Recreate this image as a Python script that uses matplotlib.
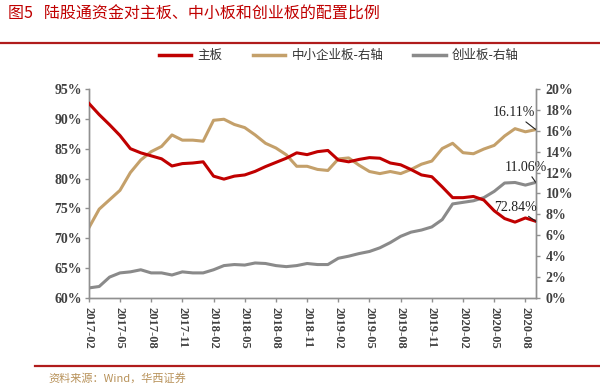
import matplotlib
matplotlib.use("Agg")
import matplotlib.pyplot as plt
import pandas as pd

months = list(pd.date_range("2017-02-01", "2020-09-01", freq="MS").strftime("%Y-%m"))

main_board = [92.6, 90.7, 89.0, 87.2, 85.0, 84.3, 83.8, 83.3, 82.1, 82.5, 82.6, 82.8,
              80.4, 79.9, 80.4, 80.6, 81.2, 82.0, 82.7, 83.4, 84.3, 84.0, 84.5, 84.7,
              83.1, 82.8, 83.2, 83.5, 83.4, 82.6, 82.3, 81.5, 80.6, 80.3, 78.6, 76.8,
              76.8, 77.0, 76.4, 74.6, 73.3, 72.7, 73.4, 72.84]
sme_board = [6.7, 8.5, 9.4, 10.3, 12.0, 13.2, 14.0, 14.5, 15.6, 15.1, 15.1, 15.0,
             17.0, 17.1, 16.6, 16.3, 15.6, 14.8, 14.35, 13.7, 12.6, 12.6, 12.3, 12.2,
             13.3, 13.4, 12.7, 12.1, 11.9, 12.1, 11.9, 12.3, 12.8, 13.1, 14.3, 14.8,
             13.9, 13.8, 14.25, 14.6, 15.5, 16.2, 15.9, 16.11]
gem_board = [0.96, 1.1, 2.0, 2.4, 2.5, 2.7, 2.4, 2.4, 2.2, 2.5, 2.4, 2.4,
             2.7, 3.1, 3.2, 3.15, 3.35, 3.3, 3.1, 3.0, 3.1, 3.3, 3.2, 3.2,
             3.8, 4.0, 4.25, 4.45, 4.8, 5.3, 5.9, 6.3, 6.5, 6.8, 7.5, 9.0,
             9.15, 9.3, 9.6, 10.2, 11.0, 11.05, 10.8, 11.06]

left_ticks = [60, 65, 70, 75, 80, 85, 90, 95]
right_ticks = [0, 2, 4, 6, 8, 10, 12, 14, 16, 18, 20]

series_names = ["主板", "中小企业板-右轴", "创业板-右轴"]
title = "图5   陆股通资金对主板、中小板和创业板的配置比例"
source = "资料来源：Wind，华西证券"

RED = "#c00000"
TAN = "#c4a06a"
GRAY = "#8a8a8a"
TXT = "#404040"
CJK = ["Noto Sans CJK SC", "DejaVu Sans"]
SERIF = "Liberation Serif"

fig = plt.figure(figsize=(6, 3.85), dpi=100)
ax = fig.add_axes([0.148, 0.226, 0.745, 0.543])
ax2 = ax.twinx()

x = list(range(len(months)))
ax2.plot(x, sme_board, color=TAN, lw=2.2, solid_joinstyle="round", zorder=2)
ax2.plot(x, gem_board, color=GRAY, lw=2.2, solid_joinstyle="round", zorder=2)
ax.set_zorder(ax2.get_zorder() + 1)
ax.patch.set_visible(False)
ax.plot(x, main_board, color=RED, lw=2.2, solid_joinstyle="round", zorder=3)

ax.set_xlim(0, len(months) - 1)
ax.set_ylim(60, 95)
ax2.set_ylim(0, 20)
ax.set_yticks(left_ticks)
ax.set_yticklabels([f"{v}%" for v in left_ticks], fontfamily=SERIF, fontweight="bold",
                   fontsize=10, color=TXT)
ax2.set_yticks(right_ticks)
ax2.set_yticklabels([f"{v}%" for v in right_ticks], fontfamily=SERIF, fontweight="bold",
                    fontsize=10, color=TXT)
xt = x[::3]
ax.set_xticks(xt)
ax.set_xticklabels([months[i] for i in xt], rotation=-90, fontfamily=SERIF,
                   fontweight="bold", fontsize=9, color=TXT)

for a in (ax, ax2):
    a.spines["top"].set_visible(False)
    for s in ("left", "right", "bottom"):
        a.spines[s].set_color("#909090")
        a.spines[s].set_linewidth(1.0)
    a.tick_params(axis="both", colors="#909090", length=3, width=1, labelcolor=TXT)
ax.tick_params(axis="y", pad=2)
ax2.tick_params(axis="y", pad=4)

# annotations
ax2.annotate(f"{sme_board[-1]:.2f}%", xy=(x[-1], sme_board[-1]),
             xytext=(x[-1] - 2.1, sme_board[-1] + 1.0), ha="center", va="bottom",
             fontfamily=SERIF, fontsize=10, color="#202020",
             arrowprops=dict(arrowstyle="-", color="#202020", lw=0.8, shrinkA=0, shrinkB=0))
ax2.annotate(f"{gem_board[-1]:.2f}%", xy=(x[-1], gem_board[-1]),
             xytext=(x[-1] - 1.0, gem_board[-1] + 0.8), ha="center", va="bottom",
             fontfamily=SERIF, fontsize=10, color="#202020",
             arrowprops=dict(arrowstyle="-", color="#202020", lw=0.8, shrinkA=0, shrinkB=0))
ax.annotate(f"{main_board[-1]:.2f}%", xy=(x[-1], main_board[-1]),
            xytext=(x[-1] - 2.0, main_board[-1] + 1.3), ha="center", va="bottom",
            fontfamily=SERIF, fontsize=10, color="#202020",
            arrowprops=dict(arrowstyle="-", color="#202020", lw=0.8, shrinkA=0, shrinkB=0))

# legend
handles = [plt.Line2D([], [], color=c, lw=2.5) for c in (RED, TAN, GRAY)]
fig.legend(handles, series_names, loc="center", bbox_to_anchor=(0.565, 0.855), ncol=3,
           frameon=False, prop={"family": CJK, "size": 9}, handlelength=2.6,
           handletextpad=0.5, columnspacing=2.4, labelcolor="#333333")

# title and rules
fig.text(0.013, 0.962, title, fontfamily=CJK, fontsize=11.5, color=RED, va="center",
         ha="left")
fig.add_artist(plt.Line2D([0.0, 1.0], [0.889, 0.889], color="#b01c1c", lw=1.6,
                          transform=fig.transFigure))
fig.add_artist(plt.Line2D([0.058, 1.0], [0.049, 0.049], color="#b01c1c", lw=1.6,
                          transform=fig.transFigure))
fig.text(0.08, 0.018, source, fontfamily=CJK, fontsize=8, color="#b8925a",
         va="center", ha="left")

fig.savefig("out.png", dpi=100)
